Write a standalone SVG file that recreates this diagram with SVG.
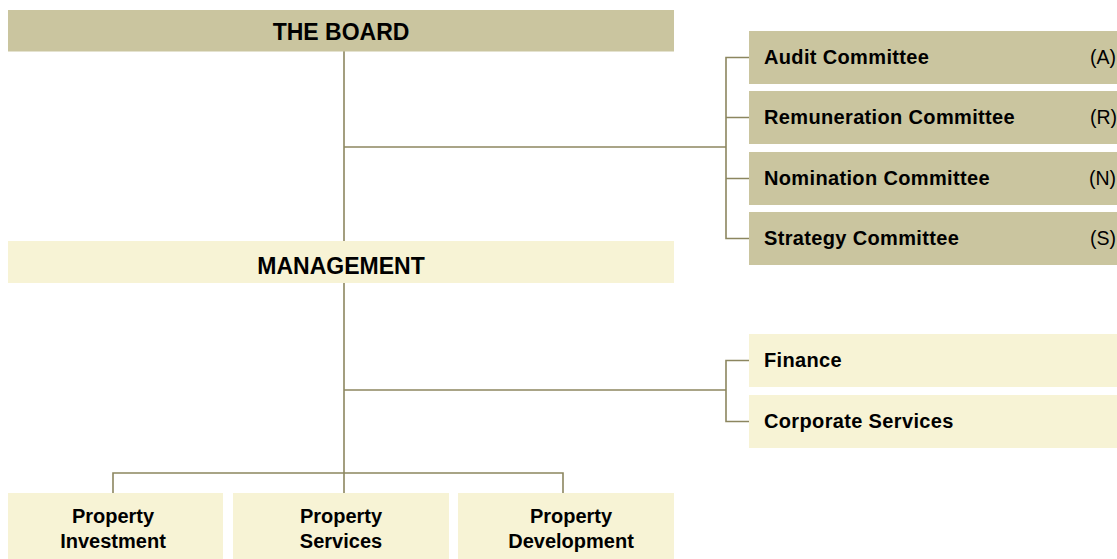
<svg xmlns="http://www.w3.org/2000/svg" width="1117" height="559" viewBox="0 0 1117 559">
  <style>
    .dark { fill: #cac59f; }
    .light { fill: #f7f3d5; }
    .wire { fill: none; stroke: #8c865f; stroke-width: 1.6; }
    .head { font-family: "Liberation Sans", Arial, sans-serif; font-weight: bold; font-size: 23px; fill: #000; text-anchor: middle; }
    .lbl { font-family: "Liberation Sans", Arial, sans-serif; font-weight: bold; font-size: 20px; letter-spacing: 0.35px; fill: #000; }
    .code { font-family: "Liberation Sans", Arial, sans-serif; font-size: 19.5px; fill: #000; }
    .unit { font-family: "Liberation Sans", Arial, sans-serif; font-weight: bold; font-size: 20px; fill: #000; text-anchor: middle; }
  </style>
  <rect width="1117" height="559" fill="#ffffff"/>

  <!-- connectors -->
  <g id="connectors" class="wire">
    <path d="M344 51 V241"/>
    <path d="M344 147 H726"/>
    <path d="M749 57.5 H726 V238.5 H749"/>
    <path d="M726 117.5 H749 M726 178.5 H749"/>
    <path d="M344 283 V493"/>
    <path d="M344 390 H726"/>
    <path d="M749 360.5 H726 V421.5 H749"/>
    <path d="M113 493 V473 H563 V493"/>
  </g>

  <g id="board">
    <rect class="dark" x="8" y="10" width="666" height="41.5"/>
    <text class="head" x="341" y="39.5">THE BOARD</text>
  </g>

  <g id="management">
    <rect class="light" x="8" y="241" width="666" height="42"/>
    <text class="head" x="341" y="274">MANAGEMENT</text>
  </g>

  <g id="audit">
    <rect class="dark" x="749" y="31" width="368" height="53"/>
    <text class="lbl" x="764" y="64">Audit Committee</text>
    <text class="code" x="1090" y="64">(A)</text>
  </g>
  <g id="remuneration">
    <rect class="dark" x="749" y="91" width="368" height="53"/>
    <text class="lbl" x="764" y="124">Remuneration Committee</text>
    <text class="code" x="1090" y="124">(R)</text>
  </g>
  <g id="nomination">
    <rect class="dark" x="749" y="152" width="368" height="53"/>
    <text class="lbl" x="764" y="184.5">Nomination Committee</text>
    <text class="code" x="1089" y="184.5">(N)</text>
  </g>
  <g id="strategy">
    <rect class="dark" x="749" y="212" width="368" height="53"/>
    <text class="lbl" x="764" y="245">Strategy Committee</text>
    <text class="code" x="1090" y="245">(S)</text>
  </g>

  <g id="finance">
    <rect class="light" x="749" y="334" width="368" height="53"/>
    <text class="lbl" x="764" y="367">Finance</text>
  </g>
  <g id="corporate-services">
    <rect class="light" x="749" y="395" width="368" height="53"/>
    <text class="lbl" x="764" y="428">Corporate Services</text>
  </g>

  <g id="property-investment">
    <rect class="light" x="8" y="493" width="215" height="66"/>
    <text class="unit" x="113" y="522.5">Property</text>
    <text class="unit" x="113" y="548">Investment</text>
  </g>
  <g id="property-services">
    <rect class="light" x="233" y="493" width="216" height="66"/>
    <text class="unit" x="341" y="522.5">Property</text>
    <text class="unit" x="341" y="548">Services</text>
  </g>
  <g id="property-development">
    <rect class="light" x="458" y="493" width="216" height="66"/>
    <text class="unit" x="571" y="522.5">Property</text>
    <text class="unit" x="571" y="548">Development</text>
  </g>
</svg>
